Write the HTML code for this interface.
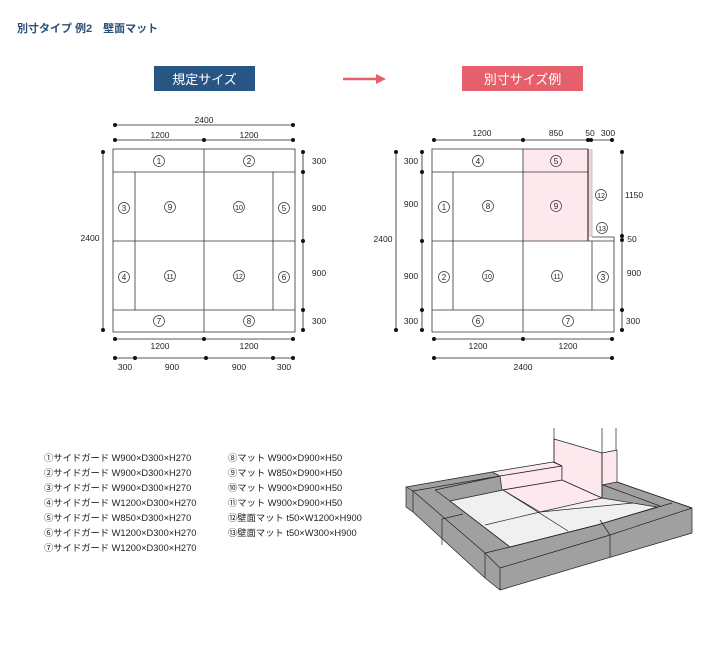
<!DOCTYPE html>
<html><head><meta charset="utf-8"><style>
html,body{margin:0;padding:0;background:#fff;}
body{width:720px;height:642px;position:relative;overflow:hidden;font-family:"Liberation Sans","Noto Sans CJK JP",sans-serif;}
svg text{font-family:"Liberation Sans","Noto Sans CJK JP",sans-serif;}
</style></head><body>
<svg width="720" height="642" viewBox="0 0 720 642" xmlns="http://www.w3.org/2000/svg">
<text x="17" y="32" font-size="11" font-weight="bold" fill="#2a4f77">別寸タイプ 例2　壁面マット</text>
<rect x="154" y="66" width="101" height="25" fill="#275685"/>
<text x="204.5" y="84" font-size="13" fill="#fff" text-anchor="middle">規定サイズ</text>
<rect x="462" y="66" width="121" height="25" fill="#e6606b"/>
<text x="522.5" y="84" font-size="13" fill="#fff" text-anchor="middle">別寸サイズ例</text>
<line x1="343" y1="79" x2="378" y2="79" stroke="#e6606b" stroke-width="2.5"/>
<polygon points="376,74 386,79 376,84" fill="#e6606b"/>

<g stroke="#333" stroke-width="0.8" fill="none">
<rect x="113" y="149" width="182" height="183" fill="#fff"/>
<line x1="113" y1="172" x2="295" y2="172"/><line x1="113" y1="241" x2="295" y2="241"/><line x1="113" y1="310" x2="295" y2="310"/>
<line x1="204" y1="149" x2="204" y2="332"/><line x1="135" y1="172" x2="135" y2="310"/><line x1="273" y1="172" x2="273" y2="310"/>
<rect x="523" y="149" width="65" height="92" fill="#fde8ee" stroke="none"/>
<rect x="588" y="149" width="4" height="88" fill="#f5d4dc" stroke="none"/>
<polyline points="588,149 432,149 432,332 614,332 614,237 592,237"/>
<line x1="588" y1="149" x2="588" y2="241" stroke-width="1.2"/>
<line x1="592" y1="149" x2="592" y2="237" stroke="#caa"/>
<line x1="432" y1="172" x2="588" y2="172"/><line x1="432" y1="241" x2="614" y2="241"/><line x1="432" y1="310" x2="614" y2="310"/>
<line x1="523" y1="149" x2="523" y2="332"/><line x1="453" y1="172" x2="453" y2="310"/><line x1="592" y1="241" x2="592" y2="310"/>
</g>

<g stroke="#222" stroke-width="0.8">
<line x1="115" y1="125" x2="293" y2="125"/><line x1="115" y1="140" x2="293" y2="140"/>
<line x1="103" y1="151" x2="103" y2="330"/><line x1="303" y1="152" x2="303" y2="330"/>
<line x1="115" y1="339" x2="293" y2="339"/><line x1="115" y1="358" x2="293" y2="358"/>
<line x1="434" y1="140" x2="612" y2="140"/><line x1="422" y1="152" x2="422" y2="330"/><line x1="396" y1="152" x2="396" y2="330"/>
<line x1="622" y1="152" x2="622" y2="330"/><line x1="434" y1="339" x2="612" y2="339"/><line x1="434" y1="358" x2="612" y2="358"/>
</g>
<g fill="#111">
<circle cx="115" cy="125" r="2"/><circle cx="293" cy="125" r="2"/>
<circle cx="115" cy="140" r="2"/><circle cx="204" cy="140" r="2"/><circle cx="293" cy="140" r="2"/>
<circle cx="103" cy="152" r="2"/><circle cx="103" cy="330" r="2"/>
<circle cx="303" cy="152" r="2"/><circle cx="303" cy="172" r="2"/><circle cx="303" cy="241" r="2"/><circle cx="303" cy="310" r="2"/><circle cx="303" cy="330" r="2"/>
<circle cx="115" cy="339" r="2"/><circle cx="204" cy="339" r="2"/><circle cx="293" cy="339" r="2"/>
<circle cx="115" cy="358" r="2"/><circle cx="135" cy="358" r="2"/><circle cx="206" cy="358" r="2"/><circle cx="273" cy="358" r="2"/><circle cx="293" cy="358" r="2"/>
<circle cx="434" cy="140" r="2"/><circle cx="523" cy="140" r="2"/><circle cx="588" cy="140" r="2"/><circle cx="591" cy="140" r="2"/><circle cx="612" cy="140" r="2"/>
<circle cx="422" cy="152" r="2"/><circle cx="422" cy="172" r="2"/><circle cx="422" cy="241" r="2"/><circle cx="422" cy="310" r="2"/><circle cx="422" cy="330" r="2"/>
<circle cx="396" cy="152" r="2"/><circle cx="396" cy="330" r="2"/>
<circle cx="622" cy="152" r="2"/><circle cx="622" cy="236" r="2"/><circle cx="622" cy="240" r="2"/><circle cx="622" cy="310" r="2"/><circle cx="622" cy="330" r="2"/>
<circle cx="434" cy="339" r="2"/><circle cx="523" cy="339" r="2"/><circle cx="612" cy="339" r="2"/>
<circle cx="434" cy="358" r="2"/><circle cx="612" cy="358" r="2"/>
</g>
<g font-size="8.5" fill="#222" text-anchor="middle">
<text x="204" y="123">2400</text><text x="160" y="138">1200</text><text x="249" y="138">1200</text>
<text x="90" y="241">2400</text>
<text x="319" y="164">300</text><text x="319" y="211">900</text><text x="319" y="276">900</text><text x="319" y="324">300</text>
<text x="160" y="349">1200</text><text x="249" y="349">1200</text>
<text x="125" y="370">300</text><text x="172" y="370">900</text><text x="239" y="370">900</text><text x="284" y="370">300</text>
<text x="482" y="136">1200</text><text x="556" y="136">850</text><text x="590" y="136">50</text><text x="608" y="136">300</text>
<text x="411" y="164">300</text><text x="411" y="207">900</text><text x="411" y="279">900</text><text x="411" y="324">300</text>
<text x="383" y="242">2400</text>
<text x="634" y="198">1150</text><text x="632" y="242">50</text><text x="634" y="276">900</text><text x="633" y="324">300</text>
<text x="478" y="349">1200</text><text x="568" y="349">1200</text><text x="523" y="370">2400</text>
</g>
<g font-size="8" fill="#222" text-anchor="middle" stroke="none">
<g stroke="#333" stroke-width="0.7" fill="none">
<circle cx="159" cy="161" r="5.5"/><circle cx="249" cy="161" r="5.5"/><circle cx="124" cy="208" r="5.5"/><circle cx="170" cy="207" r="5.5"/><circle cx="239" cy="207" r="5.5"/><circle cx="284" cy="208" r="5.5"/>
<circle cx="124" cy="277" r="5.5"/><circle cx="170" cy="276" r="5.5"/><circle cx="239" cy="276" r="5.5"/><circle cx="284" cy="277" r="5.5"/><circle cx="159" cy="321" r="5.5"/><circle cx="249" cy="321" r="5.5"/>
<circle cx="478" cy="161" r="5.5"/><circle cx="556" cy="161" r="5.5"/><circle cx="444" cy="207" r="5.5"/><circle cx="488" cy="206" r="5.5"/><circle cx="556" cy="206" r="5.5"/><circle cx="601" cy="195" r="5.5"/><circle cx="602" cy="228" r="5.5"/>
<circle cx="444" cy="277" r="5.5"/><circle cx="488" cy="276" r="5.5"/><circle cx="557" cy="276" r="5.5"/><circle cx="603" cy="277" r="5.5"/><circle cx="478" cy="321" r="5.5"/><circle cx="568" cy="321" r="5.5"/>
</g>
<text x="159" y="164">1</text><text x="249" y="164">2</text><text x="124" y="211">3</text><text x="170" y="210">9</text><text x="239" y="210" font-size="7">10</text><text x="284" y="211">5</text>
<text x="124" y="280">4</text><text x="170" y="279" font-size="7">11</text><text x="239" y="279" font-size="7">12</text><text x="284" y="280">6</text><text x="159" y="324">7</text><text x="249" y="324">8</text>
<text x="478" y="164">4</text><text x="556" y="164">5</text><text x="444" y="210">1</text><text x="488" y="209">8</text><text x="556" y="209">9</text><text x="601" y="198" font-size="7">12</text><text x="602" y="231" font-size="7">13</text>
<text x="444" y="280">2</text><text x="488" y="279" font-size="7">10</text><text x="557" y="279" font-size="7">11</text><text x="603" y="280">3</text><text x="478" y="324">6</text><text x="568" y="324">7</text>
</g>

<g font-size="9.3" fill="#222">
<text x="44" y="461">①サイドガード W900×D300×H270</text>
<text x="44" y="476">②サイドガード W900×D300×H270</text>
<text x="44" y="491">③サイドガード W900×D300×H270</text>
<text x="44" y="506">④サイドガード W1200×D300×H270</text>
<text x="44" y="521">⑤サイドガード W850×D300×H270</text>
<text x="44" y="536">⑥サイドガード W1200×D300×H270</text>
<text x="44" y="551">⑦サイドガード W1200×D300×H270</text>
<text x="228" y="461">⑧マット W900×D900×H50</text>
<text x="228" y="476">⑨マット W850×D900×H50</text>
<text x="228" y="491">⑩マット W900×D900×H50</text>
<text x="228" y="506">⑪マット W900×D900×H50</text>
<text x="228" y="521">⑫壁面マット t50×W1200×H900</text>
<text x="228" y="536">⑬壁面マット t50×W300×H900</text>
</g>

<!-- 3D -->
<g stroke="#222" stroke-width="0.7" stroke-linejoin="round">
<polygon points="406,487 492,472 562,466 617,482 692,508 692,533 500,590 485,578 413,512 406,507" fill="#a0a0a0"/>
<polygon points="450,501 503,490 562,480 602,498 657,507 597,525 510,547" fill="#f0f0f0"/>
<polygon points="503,490 562,480 602,498 540,512" fill="#fde8ee"/>
<polygon points="492,472 553,462 562,466 500,476" fill="#fde8ee"/>
<polygon points="500,476 562,466 562,480 502,490" fill="#fde8ee"/>
<polygon points="554,439 602,453 602,498 562,480 562,466 554,462" fill="#fde8ee"/>
<polygon points="602,453 617,450 617,482 602,485" fill="#fde8ee"/>
<line x1="554" y1="428" x2="554" y2="462"/><line x1="602" y1="428" x2="602" y2="498"/><line x1="616" y1="428" x2="616" y2="450"/>
<line x1="485" y1="525" x2="540" y2="512"/><line x1="540" y1="512" x2="633" y2="503"/>
<line x1="503" y1="490" x2="568" y2="531"/>
<!-- back guard -->
<polyline fill="none" points="406,487 413,491 500,476"/>
<polyline fill="none" points="435,490 500,476"/>
<line x1="435" y1="490" x2="450" y2="501"/>
<!-- left guard -->
<line x1="413" y1="491" x2="485" y2="553"/>
<line x1="413" y1="491" x2="413" y2="512"/>
<line x1="442" y1="519" x2="463" y2="514"/><line x1="442" y1="519" x2="442" y2="545"/>
<line x1="450" y1="501" x2="510" y2="547"/>
<!-- front guard -->
<polyline fill="none" points="485,553 510,547 597,525 672,503"/>
<polyline fill="none" points="485,553 500,568 610,535 692,508"/>
<line x1="485" y1="553" x2="485" y2="578"/><line x1="500" y1="568" x2="500" y2="590"/>
<line x1="610" y1="535" x2="610" y2="557"/><line x1="600" y1="520" x2="610" y2="535"/>
<!-- right guard -->
<line x1="603" y1="485" x2="660" y2="506"/>
<line x1="617" y1="482" x2="692" y2="508"/>
</g>
</svg>
</body></html>
